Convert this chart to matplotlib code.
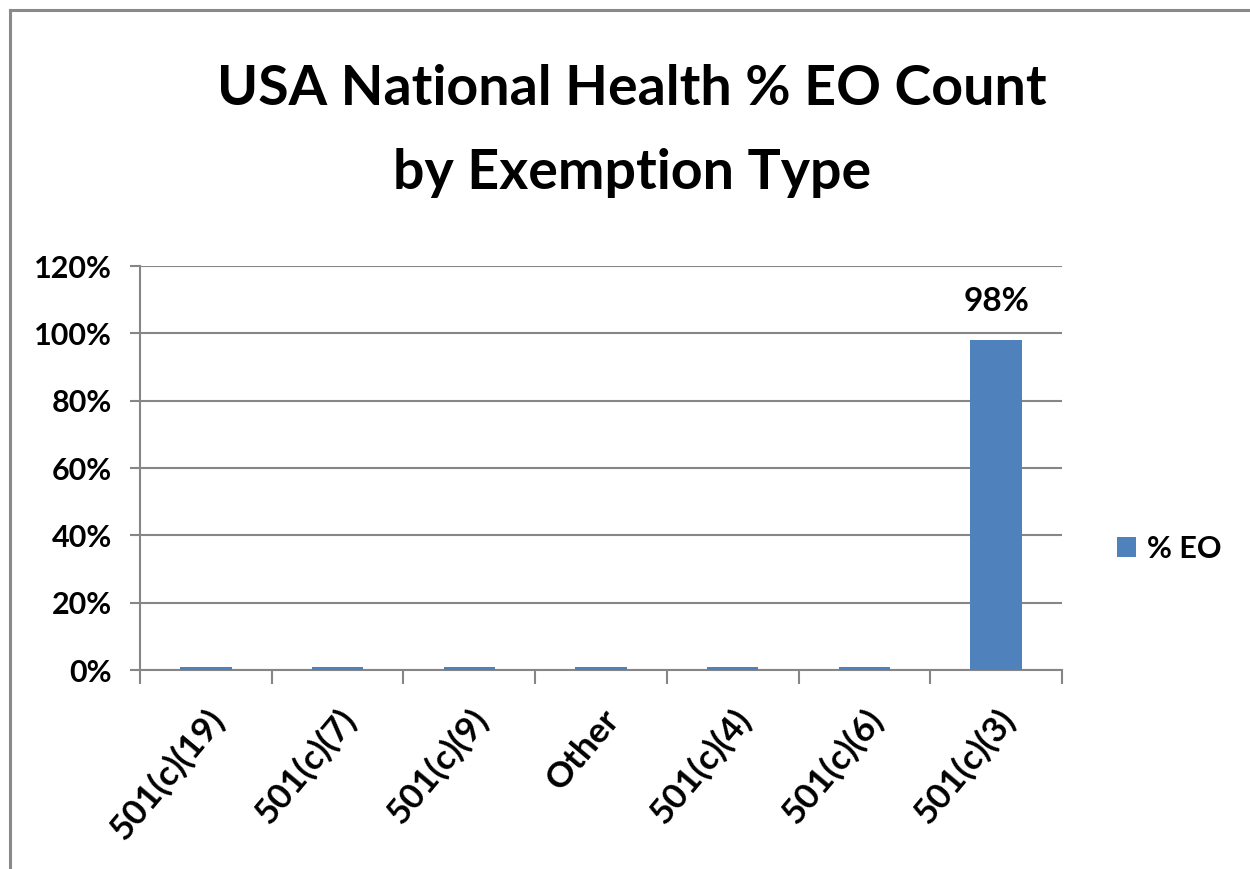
import matplotlib
matplotlib.use("Agg")
import matplotlib.pyplot as plt
from matplotlib.lines import Line2D
from matplotlib.ticker import FixedLocator, PercentFormatter

categories = ["501(c)(19)", "501(c)(7)", "501(c)(9)", "Other", "501(c)(4)", "501(c)(6)", "501(c)(3)"]
values = [0.008, 0.008, 0.008, 0.008, 0.008, 0.008, 0.98]
yticks = [0, 0.2, 0.4, 0.6, 0.8, 1.0, 1.2]
series_name = "% EO"
label_text = "98%"

plt.rcParams['font.family'] = ['Lato', 'DejaVu Sans']
plt.rcParams['font.weight'] = 'bold'

fig = plt.figure(figsize=(12.5, 8.69), dpi=100)
ax = fig.add_axes([140/1250, 1 - 670/869, (1062-140)/1250, (670-266)/869])

bar_color = "#4F81BD"
grid_color = "#868686"
x = list(range(len(categories)))
bars = ax.bar(x, values, width=0.39, color=bar_color, label=series_name, zorder=3)

ax.set_xlim(-0.5, len(categories) - 0.5)
ax.set_ylim(0, 1.2)
ax.yaxis.set_major_locator(FixedLocator(yticks))
ax.yaxis.set_major_formatter(PercentFormatter(1.0, decimals=0))
ax.grid(axis='y', color=grid_color, linewidth=1.5, zorder=0)
ax.set_axisbelow(True)

for s in ['top', 'right']:
    ax.spines[s].set_visible(False)
for s in ['left', 'bottom']:
    ax.spines[s].set_color(grid_color)
    ax.spines[s].set_linewidth(1.5)

ax.set_xticks(x)
ax.set_xticklabels(categories, rotation=50, ha='right', va='top', rotation_mode='anchor',
                   fontsize=25.5, fontweight='bold')
ax.set_xticks([i - 0.5 for i in range(len(categories) + 1)], minor=True)
ax.tick_params(axis='x', which='major', length=0, pad=24)
ax.tick_params(axis='x', which='minor', length=10, width=1.5, color=grid_color, direction='out')
ax.tick_params(axis='y', length=7, width=1.5, color=grid_color, labelsize=22, pad=13)
for t in ax.get_yticklabels():
    t.set_fontweight('bold')

ax.text(x[-1], values[-1] + 0.115, label_text, ha='center', va='center', fontsize=24, fontweight='bold')

fig.text(632/1250, 1 - 131/869, "USA National Health % EO Count\nby Exemption Type",
         ha='center', va='center', fontsize=40, fontweight='bold', linespacing=1.85)

leg = fig.legend(handles=[bars], labels=[series_name], loc='center left',
                 bbox_to_anchor=(1089/1250, 1 - 549/869), frameon=False,
                 fontsize=22, handlelength=0.65, handleheight=0.65, handletextpad=0.35)
for t in leg.get_texts():
    t.set_fontweight('bold')

fig.add_artist(Line2D([10/1250, 10/1250], [0, 1 - 10/869], transform=fig.transFigure,
                      color="#8a8a8a", linewidth=2.2))
fig.add_artist(Line2D([10/1250, 1], [1 - 10/869, 1 - 10/869], transform=fig.transFigure,
                      color="#8a8a8a", linewidth=2.2))

fig.savefig("out.png", dpi=100, facecolor='white')
